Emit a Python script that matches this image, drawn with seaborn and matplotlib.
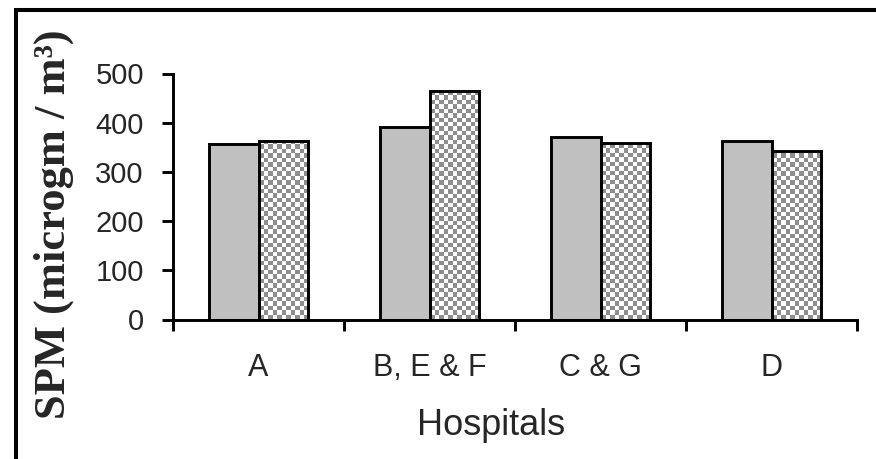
import numpy as np
import pandas as pd
import matplotlib
matplotlib.use("Agg")
import matplotlib.pyplot as plt
from matplotlib.colors import ListedColormap
from matplotlib.patches import Rectangle
import seaborn as sns

# Values
hospitals = ["A", "B, E & F", "C & G", "D"]
spm_plain = [356, 392, 371, 363]
spm_checked = [363, 465, 358, 343]
y_ticks = [0, 100, 200, 300, 400, 500]

df = pd.DataFrame({
    "Hospital": hospitals * 2,
    "SPM": spm_plain + spm_checked,
    "Series": ["plain"] * len(hospitals) + ["checked"] * len(hospitals),
})

sns.set_style("white")
plt.rcParams["font.family"] = ["Liberation Sans", "DejaVu Sans"]

W, H = 876, 459
fig = plt.figure(figsize=(W / 100, H / 100), dpi=100)
fig.patch.set_facecolor("white")
ax = fig.add_axes([173 / W, 1 - 319.5 / H, (857 - 173) / W, (319.5 - 73.5) / H])

sns.barplot(data=df, x="Hospital", y="SPM", hue="Series",
            palette=["#C0C0C0", "#FFFFFF"], width=0.58, saturation=1,
            edgecolor="black", linewidth=2.1, errorbar=None,
            legend=False, ax=ax)

ax.set_xlim(-0.5, len(hospitals) - 0.5)
ax.set_ylim(0, 500)

# checkerboard fill for the second series (clipped image per bar)
pos = ax.get_position()
ax_w_px = pos.width * W
ax_h_px = pos.height * H
cell = 4.5
ncols = int(round(ax_w_px / cell))
nrows = int(round(ax_h_px / cell))
checks = np.add.outer(np.arange(nrows), np.arange(ncols)) % 2
checker_cmap = ListedColormap(["#FFFFFF", "#8E8E8E"])
for p in list(ax.patches):
    if tuple(np.round(p.get_facecolor()[:3], 2)) == (1.0, 1.0, 1.0):
        p.set_facecolor("none")
        im = ax.imshow(checks, extent=(-0.5, len(hospitals) - 0.5, 0, 500),
                       origin="lower", cmap=checker_cmap, interpolation="nearest",
                       aspect="auto", zorder=0.9)
        im.set_clip_path(p)
ax.set_xlim(-0.5, len(hospitals) - 0.5)
ax.set_ylim(0, 500)

# axes styling
for side in ["top", "right"]:
    ax.spines[side].set_visible(False)
for side in ["left", "bottom"]:
    ax.spines[side].set_linewidth(2.1)
    ax.spines[side].set_color("black")

ax.set_yticks(y_ticks)
ax.tick_params(axis="y", direction="out", length=8, width=2.1, color="black",
               labelsize=21, pad=13, left=True)

bounds = np.arange(len(hospitals) + 1) - 0.5
ax.set_xticks(bounds, labels=[""] * len(bounds))
ax.set_xticks(range(len(hospitals)), labels=hospitals, minor=True)
ax.tick_params(axis="x", which="major", direction="out", length=8, width=2.1,
               color="black", bottom=True)
ax.tick_params(axis="x", which="minor", length=0, labelsize=22, pad=24)

ax.set_xlabel("Hospitals", fontsize=26)
ax.xaxis.set_label_coords(0.465, -0.36)
ax.set_ylabel("SPM (microgm / m³)", fontsize=32, fontweight="bold",
              family=["Liberation Serif", "DejaVu Serif"])
ax.yaxis.set_label_coords(-0.145, 0.386)

# outer frame of the original figure (only top and left edges visible)
fig.add_artist(Rectangle((16 / W, -0.1), 1.2, 1 - 10 / H + 0.1,
                         transform=fig.transFigure, fill=False,
                         edgecolor="black", linewidth=2.9, clip_on=False))

fig.savefig("out.png", dpi=100)
